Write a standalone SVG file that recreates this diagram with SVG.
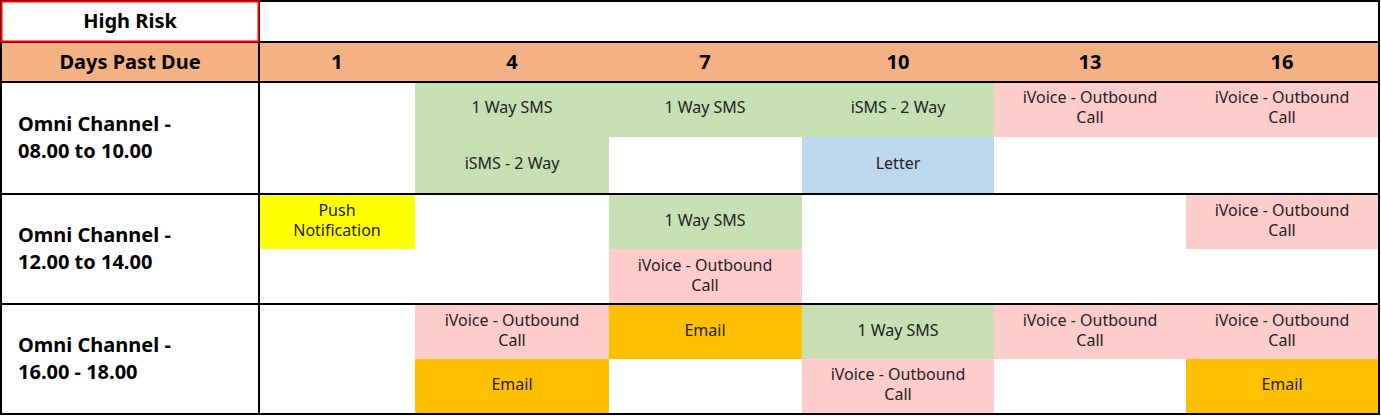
<svg xmlns="http://www.w3.org/2000/svg" width="1381" height="417" viewBox="0 0 1381 417">
<style>
.g{fill:#c6e0b4}.p{fill:#ffcccc}.b{fill:#bdd7ee}.y{fill:#ffff00}.o{fill:#ffc000}.h{fill:#f4b183}
text{font-family:"Noto Sans","Liberation Sans",sans-serif}
.t{font-size:16px;fill:#222;text-anchor:middle}
.hd{font-size:20px;font-weight:bold;fill:#000;text-anchor:middle}
.rl{font-size:20px;font-weight:bold;fill:#000}
.ln{stroke:#000;stroke-width:2;fill:none}
</style>
<rect width="1381" height="417" fill="#fff"/>
<g id="header">
<rect class="h" x="1" y="42" width="1378" height="40"/>
<text class="hd" x="130" y="28">High Risk</text>
<text class="hd" x="130" y="69">Days Past Due</text>
<text class="hd" x="337" y="69">1</text>
<text class="hd" x="512" y="69">4</text>
<text class="hd" x="705" y="69">7</text>
<text class="hd" x="898" y="69">10</text>
<text class="hd" x="1090" y="69">13</text>
<text class="hd" x="1282" y="69">16</text>
</g>
<g id="row1">
<rect class="g" x="415" y="82" width="194" height="112"/>
<rect class="g" x="609" y="82" width="193" height="55"/>
<rect class="g" x="802" y="82" width="192" height="55"/>
<rect class="b" x="802" y="137" width="192" height="57"/>
<rect class="p" x="994" y="82" width="385" height="55"/>
<text class="rl" x="18" y="131">Omni Channel -</text>
<text class="rl" x="18" y="158">08.00 to 10.00</text>
<text class="t" x="512" y="113">1 Way SMS</text>
<text class="t" x="512" y="169">iSMS - 2 Way</text>
<text class="t" x="705" y="113">1 Way SMS</text>
<text class="t" x="898" y="113">iSMS - 2 Way</text>
<text class="t" x="898" y="169">Letter</text>
<text class="t" x="1090" y="103">iVoice - Outbound</text>
<text class="t" x="1090" y="123">Call</text>
<text class="t" x="1282" y="103">iVoice - Outbound</text>
<text class="t" x="1282" y="123">Call</text>
</g>
<g id="row2">
<rect class="y" x="259" y="194" width="156" height="55"/>
<rect class="g" x="609" y="194" width="193" height="55"/>
<rect class="p" x="609" y="249" width="193" height="55"/>
<rect class="p" x="1186" y="194" width="193" height="55"/>
<text class="rl" x="18" y="242">Omni Channel -</text>
<text class="rl" x="18" y="269">12.00 to 14.00</text>
<text class="t" x="337" y="216">Push</text>
<text class="t" x="337" y="236">Notification</text>
<text class="t" x="705" y="226">1 Way SMS</text>
<text class="t" x="705" y="271">iVoice - Outbound</text>
<text class="t" x="705" y="291">Call</text>
<text class="t" x="1282" y="216">iVoice - Outbound</text>
<text class="t" x="1282" y="236">Call</text>
</g>
<g id="row3">
<rect class="p" x="415" y="304" width="194" height="55"/>
<rect class="o" x="415" y="359" width="194" height="55"/>
<rect class="o" x="609" y="304" width="193" height="55"/>
<rect class="g" x="802" y="304" width="192" height="55"/>
<rect class="p" x="802" y="359" width="192" height="55"/>
<rect class="p" x="994" y="304" width="385" height="55"/>
<rect class="o" x="1186" y="359" width="193" height="55"/>
<text class="rl" x="18" y="352">Omni Channel -</text>
<text class="rl" x="18" y="379">16.00 - 18.00</text>
<text class="t" x="512" y="326">iVoice - Outbound</text>
<text class="t" x="512" y="346">Call</text>
<text class="t" x="512" y="390">Email</text>
<text class="t" x="705" y="336">Email</text>
<text class="t" x="898" y="336">1 Way SMS</text>
<text class="t" x="898" y="380">iVoice - Outbound</text>
<text class="t" x="898" y="400">Call</text>
<text class="t" x="1090" y="326">iVoice - Outbound</text>
<text class="t" x="1090" y="346">Call</text>
<text class="t" x="1282" y="326">iVoice - Outbound</text>
<text class="t" x="1282" y="346">Call</text>
<text class="t" x="1282" y="390">Email</text>
</g>
<g id="connectors">
<rect class="ln" x="1" y="1" width="1378" height="413"/>
<path class="ln" d="M259 1V414M1 42H1379M1 82H1379M1 194H1379M1 304H1379"/>
<rect x="1.5" y="1.5" width="257" height="40" fill="none" stroke="#ff0000" stroke-width="2"/>
</g>
</svg>
